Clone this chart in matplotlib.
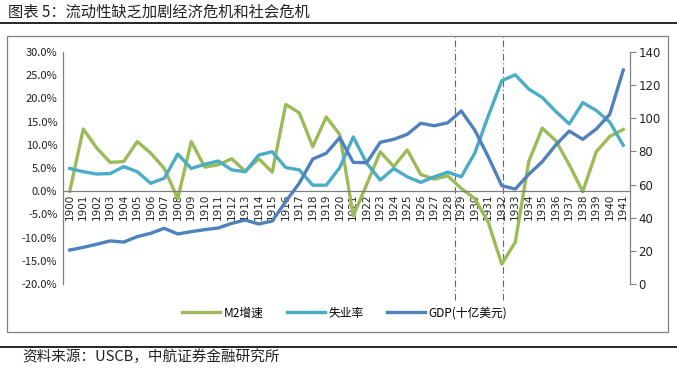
import matplotlib
matplotlib.use("Agg")
import matplotlib.pyplot as plt
from matplotlib.lines import Line2D
from matplotlib.patches import Rectangle
import numpy as np

plt.rcParams['font.family'] = ['Noto Sans CJK SC', 'DejaVu Sans']

years = [str(y) for y in range(1900, 1942)]
m2_growth = [0.0, 13.4, 9.3, 6.2, 6.4, 10.7, 8.2, 4.9, -1.6, 10.7,
             5.2, 5.7, 7.0, 4.3, 7.0, 4.1, 18.7, 16.9, 9.6, 16.0,
             12.2, -5.3, 1.5, 8.5, 5.3, 8.9, 3.6, 2.6, 3.3, 0.6,
             -1.6, -6.7, -15.7, -11.0, 6.4, 13.6, 10.9, 5.7, -0.1, 8.5,
             11.8, 13.3]
unemployment = [4.9, 4.2, 3.7, 3.8, 5.3, 4.2, 1.7, 2.8, 8.0, 4.9,
                5.8, 6.5, 4.6, 4.2, 7.8, 8.5, 5.1, 4.6, 1.3, 1.3,
                5.1, 11.7, 6.0, 2.4, 4.9, 3.1, 1.9, 3.1, 4.1, 3.1,
                8.2, 16.2, 23.8, 25.1, 22.0, 20.2, 17.2, 14.5, 19.1, 17.4,
                14.9, 9.9]
gdp = [20.5, 22.1, 24.0, 26.0, 25.3, 28.6, 30.6, 33.6, 30.2, 31.6,
       32.8, 33.8, 36.6, 38.6, 36.2, 38.0, 49.7, 60.8, 75.4, 78.9,
       88.3, 73.4, 73.2, 85.5, 87.3, 90.3, 97.0, 95.5, 97.3, 104.4,
       92.9, 76.8, 59.3, 57.3, 66.2, 73.8, 83.9, 92.3, 87.3, 93.5,
       102.4, 129.1]
left_ticks = [30, 25, 20, 15, 10, 5, 0, -5, -10, -15, -20]
right_ticks = [0, 20, 40, 60, 80, 100, 120, 140]
crisis_marks = [28.5, 32.1]  # category positions of dash-dot markers

c_green = '#9BBB59'
c_teal = '#4BACC6'
c_blue = '#4F81BD'

W, H = 677, 368
fig = plt.figure(figsize=(W / 100, H / 100), dpi=100)

# outer frame
fig.patches.append(Rectangle((7 / W, 1 - 332 / H), (668 - 7) / W, (332 - 36) / H,
                             transform=fig.transFigure, fill=False,
                             edgecolor='#808080', linewidth=0.9))
# title and rules
fig.text(8 / W, 1 - 12 / H, '图表 5：流动性缺乏加剧经济危机和社会危机', fontsize=11,
         va='center', ha='left', color='#222222')
fig.add_artist(Line2D([0, 1], [1 - 23 / H, 1 - 23 / H], transform=fig.transFigure,
                      color='black', linewidth=1.2))
fig.add_artist(Line2D([0, 1], [1 - 346.5 / H, 1 - 346.5 / H], transform=fig.transFigure,
                      color='black', linewidth=1.2))
fig.text(22 / W, 1 - 357 / H, '资料来源：USCB，中航证券金融研究所', fontsize=10.5,
         va='center', ha='left', color='#222222')

ax = fig.add_axes([63 / W, 1 - 284 / H, (630 - 63) / W, (284 - 52) / H])
ax2 = ax.twinx()

x = np.arange(len(years))
l1, = ax.plot(x, m2_growth, color=c_green, lw=2.4, label='M2增速')
l2, = ax.plot(x, unemployment, color=c_teal, lw=2.4, label='失业率')
l3, = ax2.plot(x, gdp, color=c_blue, lw=2.4, label='GDP(十亿美元)')

ax.set_xlim(-0.5, len(years) - 0.5)
ax.set_ylim(-20, 30)
ax2.set_ylim(0, 140)

for a in (ax, ax2):
    a.spines['top'].set_visible(False)
    a.set_facecolor('none')
ax.spines['right'].set_visible(False)
ax2.spines['left'].set_visible(False)
ax2.spines['bottom'].set_visible(False)
ax.spines['bottom'].set_position(('data', 0))
for s in ('left', 'bottom'):
    ax.spines[s].set_color('#808080')
    ax.spines[s].set_linewidth(0.9)
ax2.spines['right'].set_color('#808080')
ax2.spines['right'].set_linewidth(0.9)

ax.set_yticks(left_ticks)
ax.set_yticklabels([f'{v:.1f}%' for v in left_ticks])
ax2.set_yticks(right_ticks)
ax2.set_yticklabels([str(v) for v in right_ticks])
ax.set_xticks(x)
ax.set_xticklabels(years)

ax.tick_params(axis='y', length=0, pad=4, labelsize=8, labelcolor='#222222')
ax.tick_params(axis='x', length=0, pad=2, labelsize=7.5, labelrotation=90,
               labelcolor='#222222')
ax2.tick_params(axis='y', length=4, width=0.8, color='#808080', pad=2,
                labelsize=8.5, labelcolor='#222222')
for t in ax.get_xticklabels() + ax2.get_yticklabels():
    t.set_family('DejaVu Sans')

# crisis markers (dash-dot lines spanning beyond the plot area)
for cm in crisis_marks:
    ax.axvline(cm, ymin=-16 / 232, ymax=1 + 16 / 232, color='#4A6AA5', lw=0.8,
               linestyle=(0, (6, 2.5, 1, 2.5)), clip_on=False, zorder=1)

fig.legend(handles=[l1, l2, l3], loc='center', bbox_to_anchor=(345 / W, 1 - 313 / H),
           ncol=3, frameon=False, fontsize=8.5, handlelength=3.2, columnspacing=2.0,
           handletextpad=0.3)

fig.savefig('out.png', dpi=100)
